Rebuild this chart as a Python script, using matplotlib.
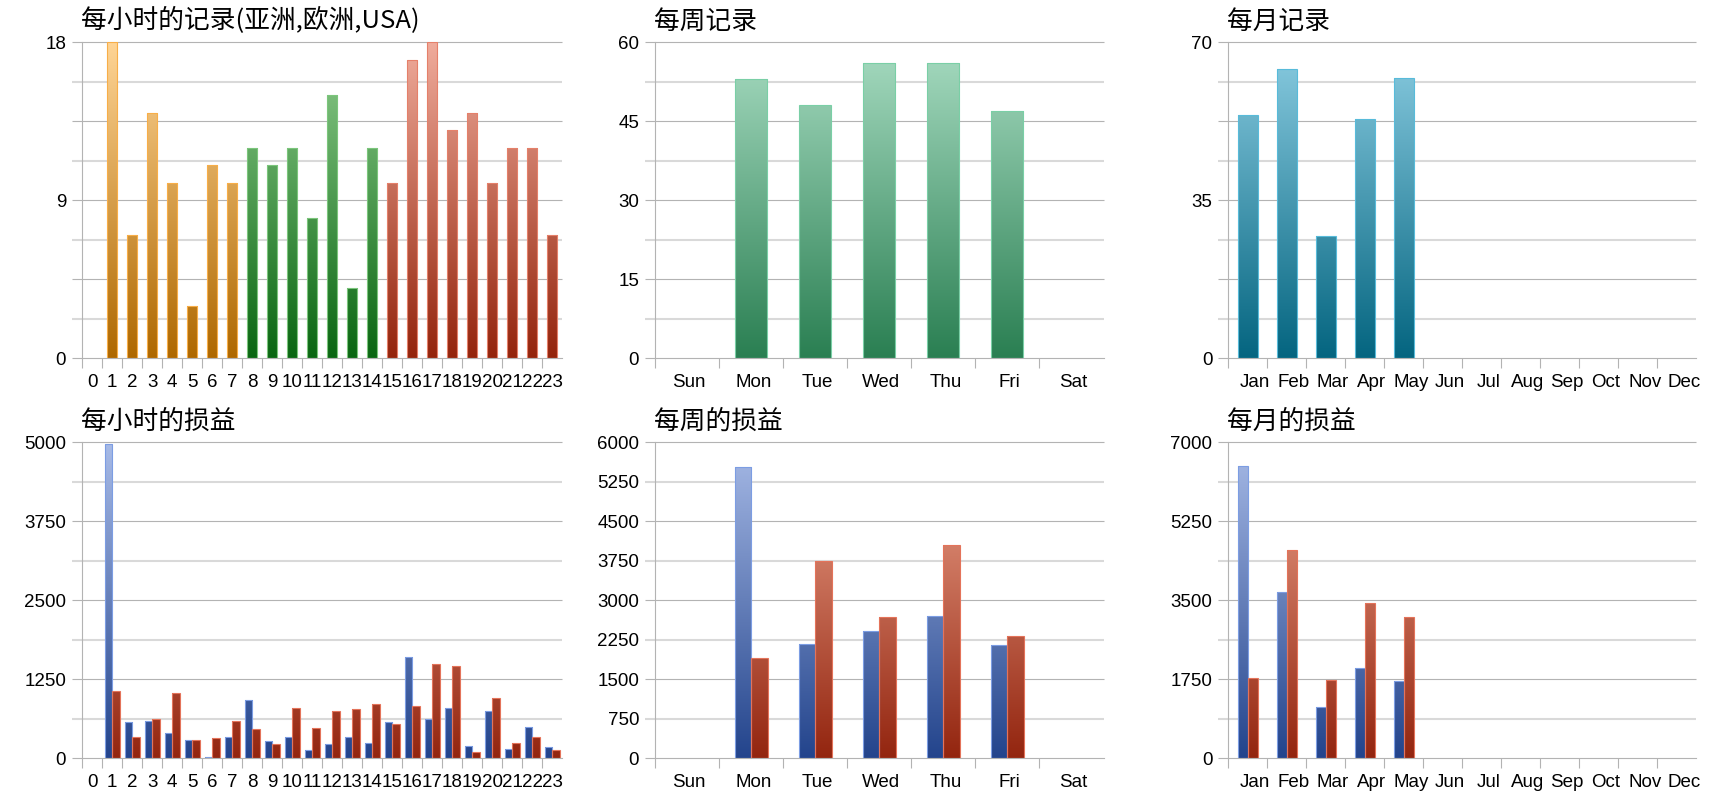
import numpy as np
import matplotlib
matplotlib.use("Agg")
import matplotlib.pyplot as plt
from matplotlib.colors import LinearSegmentedColormap
from matplotlib.transforms import ScaledTranslation

plt.rcParams['font.family'] = ['Liberation Sans', 'DejaVu Sans']

# ---------------- data ----------------
hours = [str(h) for h in range(24)]
hour_records = [0, 18, 7, 14, 10, 3, 11, 10, 12, 11, 12, 8, 15, 4, 12, 10, 17, 18, 13, 14, 10, 12, 12, 7]
hour_region = ['亚洲'] * 8 + ['欧洲'] * 7 + ['USA'] * 9
hour_profit_a = [0, 4980, 570, 596, 401, 290, 26, 338, 918, 269, 338, 137, 222, 332, 248, 570,
                 1598, 622, 802, 190, 754, 148, 490, 179]
hour_profit_b = [0, 1065, 338, 628, 1039, 295, 322, 591, 469, 222, 796, 480, 754, 775, 854, 543,
                 828, 1487, 1466, 100, 949, 248, 332, 137]

weekdays = ['Sun', 'Mon', 'Tue', 'Wed', 'Thu', 'Fri', 'Sat']
week_records = [0, 53, 48, 56, 56, 47, 0]
week_profit_a = [0, 5530, 2165, 2424, 2709, 2158, 0]
week_profit_b = [0, 1900, 3747, 2690, 4044, 2316, 0]

months = ['Jan', 'Feb', 'Mar', 'Apr', 'May', 'Jun', 'Jul', 'Aug', 'Sep', 'Oct', 'Nov', 'Dec']
month_records = [54, 64, 27, 53, 62, 0, 0, 0, 0, 0, 0, 0]
month_profit_a = [6476, 3677, 1130, 2008, 1706, 0, 0, 0, 0, 0, 0, 0]
month_profit_b = [1772, 4615, 1735, 3441, 3131, 0, 0, 0, 0, 0, 0, 0]

titles = ['每小时的记录(亚洲,欧洲,USA)', '每周记录', '每月记录',
          '每小时的损益', '每周的损益', '每月的损益']
y_max = [18, 60, 70, 5000, 6000, 7000]
y_labels = [[0, 9, 18], [0, 15, 30, 45, 60], [0, 35, 70],
            [0, 1250, 2500, 3750, 5000],
            [0, 750, 1500, 2250, 3000, 3750, 4500, 5250, 6000],
            [0, 1750, 3500, 5250, 7000]]

# gradient styles: (top colour, bottom colour, edge colour)
region_style = {'亚洲': ('#FFD596', '#AE6800', '#F8AE48'),
                '欧洲': ('#8FCD8D', '#0A6612', '#7CC67C'),
                'USA': ('#F0AC9C', '#93240C', '#E5806A')}
week_style = ('#A8DCC2', '#2A7F52', '#7ACFA6')
month_style = ('#8CCDE2', '#046580', '#58BBDA')
blue_style = ('#A8BBE7', '#23448C', '#7C9DE3')
red_style = ('#F1A891', '#93250F', '#E4735A')

# ---------------- figure ----------------
fig = plt.figure(figsize=(17.2, 8.0), dpi=100)
W, H = 1720.0, 800.0
cols = [(82.1, 480.2), (655.2, 448.3), (1228.3, 468.1)]
rows = [(42.3, 316), (442.3, 316)]
axes = []
for r, (top, h) in enumerate(rows):
    for c, (left, w) in enumerate(cols):
        ax = fig.add_axes([left / W, 1 - (top + h) / H, w / W, h / H])
        axes.append((ax, w))


def grad_bars(ax, x, vals, width, style, ymax):
    top, bottom, edge = style
    cmap = LinearSegmentedColormap.from_list('g', [bottom, top])
    lws = [0.8 if v > 0 else 0 for v in vals]
    bars = ax.bar(x, vals, width, facecolor='none', edgecolor=edge, linewidth=lws, zorder=4)
    grad = np.linspace(0, 1, 256).reshape(-1, 1)
    for p, v in zip(bars.patches, vals):
        if v <= 0:
            continue
        x0 = p.get_x()
        im = ax.imshow(grad, cmap=cmap, origin='lower', vmin=0, vmax=1,
                       extent=(x0, x0 + p.get_width(), 0, ymax), aspect='auto',
                       interpolation='bilinear', zorder=3)
        im.set_clip_path(p)
    return bars


def style_axis(ax, wpx, cats, ymax, labels, title, xoff_px):
    n = len(cats)
    ax.set_xlim(-0.5, n - 0.5)
    ax.set_ylim(0, ymax)
    d = ymax / 4.0
    ext = -10.0 / wpx
    tr = ax.get_yaxis_transform()
    for k in range(0, 5):
        ax.hlines(k * d, ext, 1 if k > 0 else 0, transform=tr, colors='#b3b3b3',
                  lw=0.8, zorder=1, clip_on=False)
    for k in range(4):
        ax.hlines((k + 0.5) * d, ext, 1, transform=tr, colors='#d9d9d9',
                  lw=1.5, zorder=1, clip_on=False)
    ax.set_yticks(labels)
    ax.set_yticklabels([str(int(v)) for v in labels])
    ax.tick_params(axis='y', length=0, pad=11.5, labelsize=13.5, colors='black')
    ax.set_xticks(np.arange(n))
    ax.set_xticklabels(cats)
    ax.set_xticks(np.arange(n) - 0.5, minor=True)
    ax.tick_params(axis='x', which='major', length=0, pad=11.5, labelsize=13.5)
    ax.tick_params(axis='x', which='minor', length=7.2, width=0.8, color='#b3b3b3',
                   direction='out')
    for s in ['top', 'right']:
        ax.spines[s].set_visible(False)
    for s in ['left', 'bottom']:
        ax.spines[s].set_color('#b3b3b3')
        ax.spines[s].set_linewidth(0.8)
    ax.spines['bottom'].set_zorder(5)
    if xoff_px:
        off = ScaledTranslation(xoff_px / 100.0, 0, fig.dpi_scale_trans)
        for lab in ax.get_xticklabels():
            lab.set_transform(lab.get_transform() + off)
    ax.annotate(title, xy=(0, 1), xycoords='axes fraction', xytext=(-1, 10),
                textcoords='offset points', ha='left', va='baseline', fontsize=18.5,
                family=['Noto Sans CJK SC', 'DejaVu Sans'])


# hourly records
ax, w = axes[0]
xh = np.arange(len(hours))
for reg in ['亚洲', '欧洲', 'USA']:
    idx = [i for i, r in enumerate(hour_region) if r == reg]
    grad_bars(ax, xh[idx], [hour_records[i] for i in idx], 0.52, region_style[reg], y_max[0])
style_axis(ax, w, hours, y_max[0], y_labels[0], titles[0], 0)

# weekly records
ax, w = axes[1]
xw = np.arange(len(weekdays))
grad_bars(ax, xw, week_records, 0.5, week_style, y_max[1])
style_axis(ax, w, weekdays, y_max[1], y_labels[1], titles[1], 2)

# monthly records
ax, w = axes[2]
xm = np.arange(len(months))
grad_bars(ax, xm, month_records, 0.5, month_style, y_max[2])
style_axis(ax, w, months, y_max[2], y_labels[2], titles[2], 7)

# hourly profit
ax, w = axes[3]
bw = 0.38
grad_bars(ax, xh - bw / 2, hour_profit_a, bw, blue_style, y_max[3])
grad_bars(ax, xh + bw / 2, hour_profit_b, bw, red_style, y_max[3])
style_axis(ax, w, hours, y_max[3], y_labels[3], titles[3], 0)

# weekly profit
ax, w = axes[4]
bw = 0.26
grad_bars(ax, xw - bw / 2, week_profit_a, bw, blue_style, y_max[4])
grad_bars(ax, xw + bw / 2, week_profit_b, bw, red_style, y_max[4])
style_axis(ax, w, weekdays, y_max[4], y_labels[4], titles[4], 2)

# monthly profit
ax, w = axes[5]
bw = 0.25
grad_bars(ax, xm - bw / 2, month_profit_a, bw, blue_style, y_max[5])
grad_bars(ax, xm + bw / 2, month_profit_b, bw, red_style, y_max[5])
style_axis(ax, w, months, y_max[5], y_labels[5], titles[5], 7)

fig.savefig('out.png', dpi=100)
